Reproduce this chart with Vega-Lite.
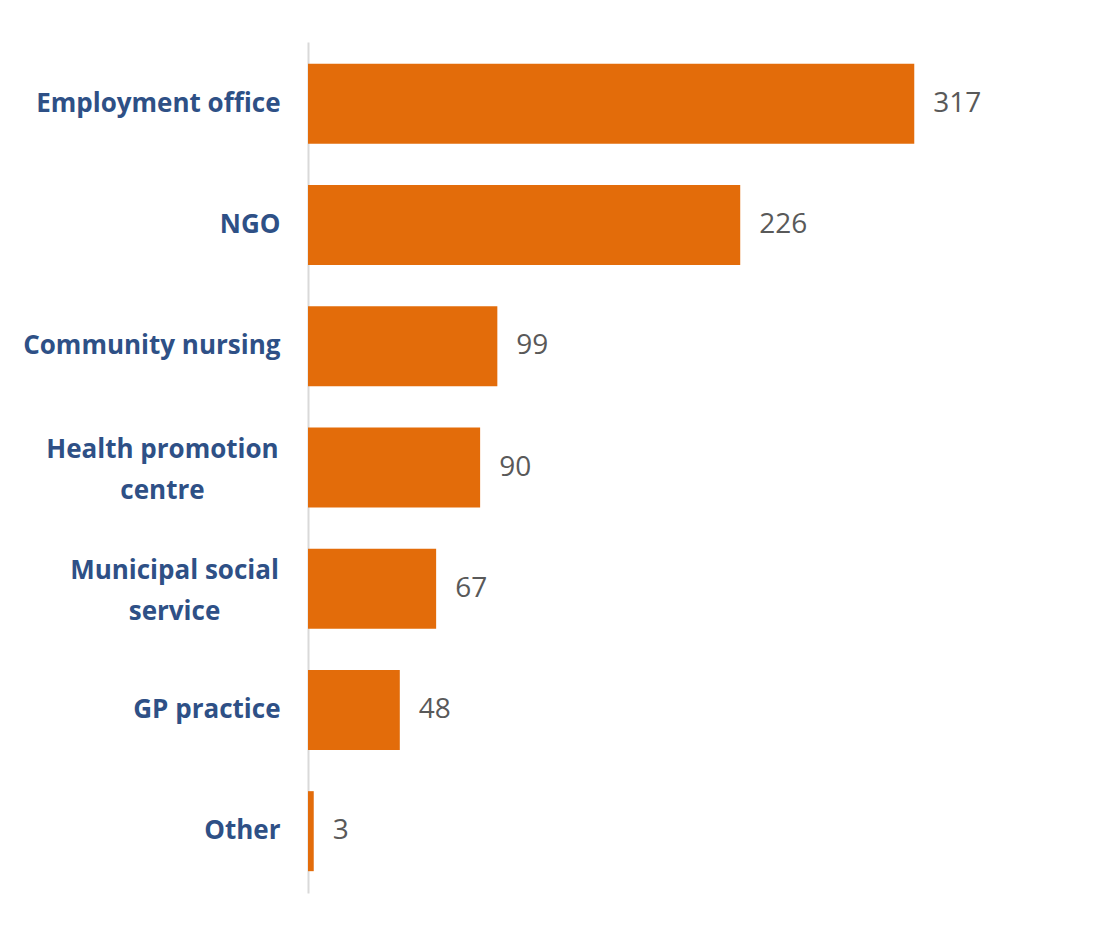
{
  "$schema": "https://vega.github.io/schema/vega-lite/v6.json",
  "autosize": "none",
  "width": 765,
  "height": 851,
  "padding": {"left": 308, "top": 42, "right": 36, "bottom": 35},
  "background": "white",
  "data": {"values": [
    {"category": "Employment office", "count": 317},
    {"category": "NGO", "count": 226},
    {"category": "Community nursing", "count": 99},
    {"category": "Health promotion centre", "count": 90},
    {"category": "Municipal social service", "count": 67},
    {"category": "GP practice", "count": 48},
    {"category": "Other", "count": 3}
  ]},
  "encoding": {
    "y": {"field": "category", "type": "nominal", "sort": null,
      "scale": {"paddingInner": 0.34, "paddingOuter": 0.18},
      "axis": {"title": null, "ticks": false, "domainColor": "#d9d9d9", "domainWidth": 2,
        "labelFont": "Open Sans", "labelFontWeight": "bold", "labelFontSize": 26, "labelColor": "#2e5086",
        "labelLimit": 400, "labelLineHeight": 41,
        "labelPadding": {"condition": [
          {"test": "datum.value == 'Health promotion centre'", "value": 146},
          {"test": "datum.value == 'Municipal social service'", "value": 134}
        ], "value": 28},
        "labelAlign": {"condition": {"test": "datum.value == 'Health promotion centre' || datum.value == 'Municipal social service'", "value": "center"}, "value": "right"},
        "labelOffset": {"condition": {"test": "datum.value == 'Health promotion centre' || datum.value == 'Municipal social service'", "value": -18}, "value": 0},
        "labelExpr": "datum.value == 'Health promotion centre' ? ['Health promotion', 'centre'] : datum.value == 'Municipal social service' ? ['Municipal social', 'service'] : datum.value"}},
    "x": {"field": "count", "type": "quantitative", "scale": {"domain": [0, 400]}, "axis": null}
  },
  "layer": [
    {"mark": {"type": "bar", "color": "#e36c0a"}},
    {"mark": {"type": "text", "align": "left", "baseline": "middle", "dx": 19, "font": "Open Sans", "fontSize": 28, "color": "#595959"},
     "encoding": {"text": {"field": "count", "type": "quantitative"}}}
  ],
  "config": {"view": {"stroke": null}}
}
